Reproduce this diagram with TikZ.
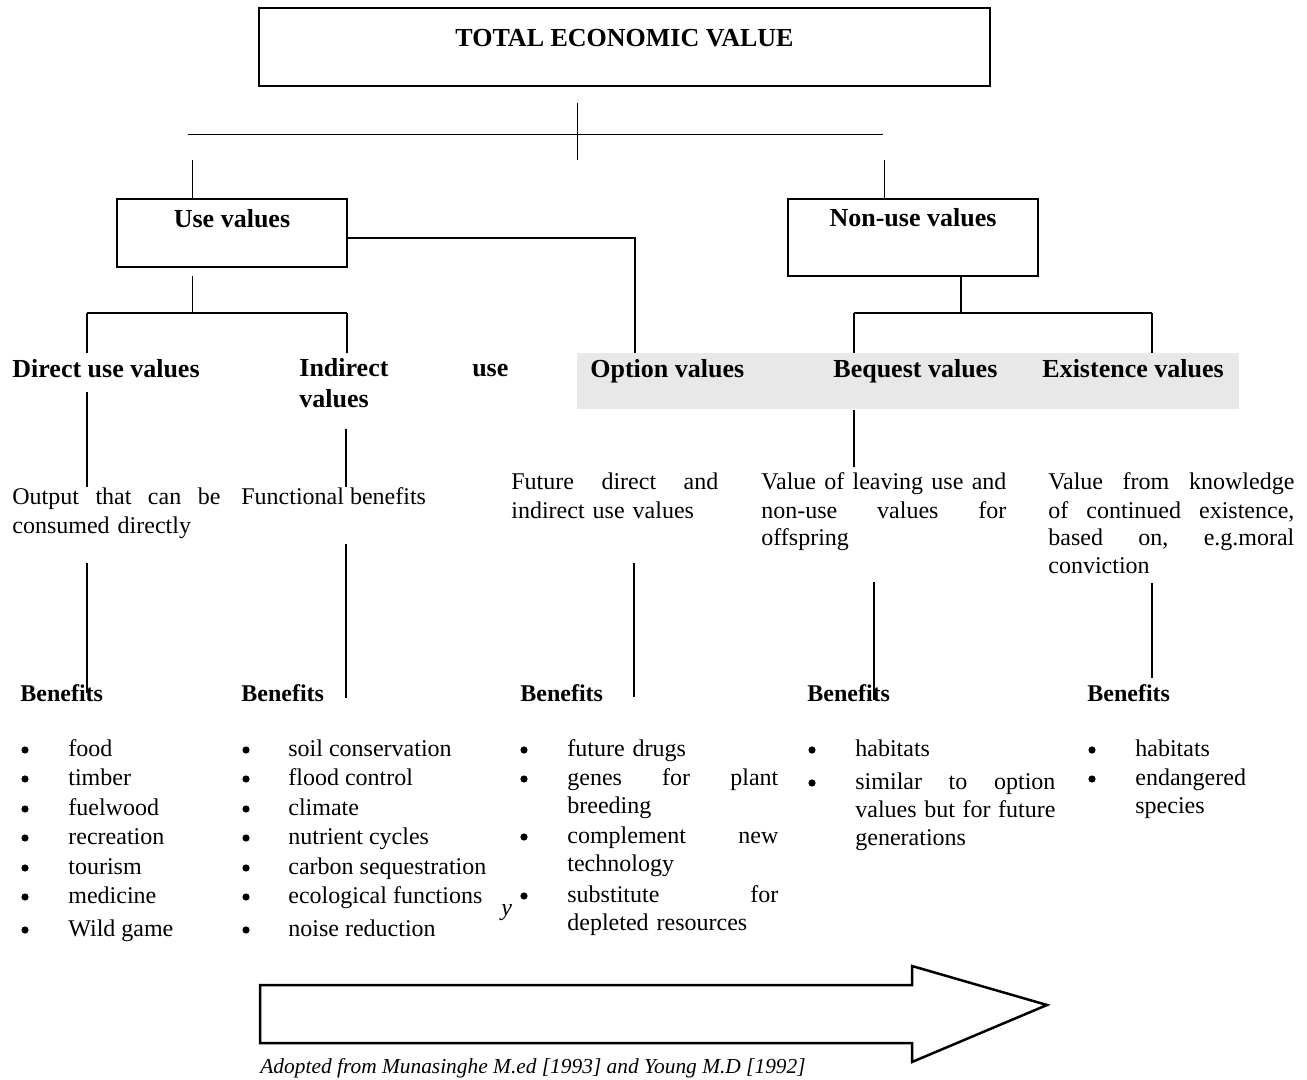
\documentclass[tikz,border=0pt]{standalone}
\usepackage{fontspec}
\setmainfont{Liberation Serif}
\usetikzlibrary{positioning}

\begin{document}
\begin{tikzpicture}[
    x=0.5pt,y=-0.5pt,
    valbox/.style={draw, line width=0.8pt, inner sep=0pt,
      font=\fontsize{13}{15.5}\selectfont\bfseries},
    topbox/.style={valbox, line width=1.35pt},
    head/.style={inner sep=0pt, anchor=base west, align=left,
      font=\fontsize{13}{15.5}\selectfont\bfseries},
    txt/.style={inner sep=0pt, anchor=base west, align=left,
      font=\fontsize{12}{14}\selectfont},
    bentitle/.style={inner sep=0pt, anchor=base west,
      font=\fontsize{12}{14}\selectfont\bfseries},
    dot/.style={circle, fill, inner sep=0pt, minimum size=3.6pt},
    link/.style={line width=0.5pt},
    stem/.style={line width=1.35pt},
    bigarrow/.style={line width=1.25pt, line join=miter}
  ]
    \useasboundingbox (0,0) rectangle (1307,1080);

    % boxes and shaded band
    \node[topbox, minimum width=365.5pt, minimum height=39pt,
      text height=10pt, text depth=10pt] (tev) at (624.5,47) {TOTAL ECONOMIC VALUE};
    \node[valbox, minimum width=115pt, minimum height=34pt,
      text height=8pt, text depth=13pt] (use) at (232,233) {Use values};
    \node[valbox, minimum width=125pt, minimum height=38.5pt,
      text height=8pt, text depth=18.5pt] (nonuse) at (913,237.5) {Non-use values};
    \node[fill=black!9, inner sep=0pt, minimum width=331pt, minimum height=28pt] (band) at (908,381) {};

    % value headings
    \node[head] (direct) at (12,378) {Direct use values};
    \node[head, text width=104.5pt] (indirect) at (299,377) {Indirect\hfill use\\values};
    \node[head] (option) at (590,378) {Option values};
    \node[head] (bequest) at (833,378) {Bequest values};
    \node[head] (existence) at (1042,378) {Existence values};

    % descriptions
    \node[txt, text width=104pt] (output) at (12,505) {Output\hfill that\hfill can\hfill be\\consumed directly};
    \node[txt] (functional) at (241,505) {Functional benefits};
    \node[txt, text width=103.5pt] (future) at (511,490) {Future\hfill direct\hfill and\\indirect use values};
    \node[txt, text width=122.5pt] (leaving) at (761,490) {Value\hfill of\hfill leaving\hfill use\hfill and\\non-use\hfill values\hfill for\\offspring};
    \node[txt, text width=123pt] (knowledge) at (1048,490) {Value\hfill from\hfill knowledge\\of\hfill continued\hfill existence,\\based\hfill on,\hfill e.g.moral\\conviction};

    % benefits
    \foreach \x [count=\i] in {20,241,520,807,1087}
      \node[bentitle] (ben\i) at (\x,701) {Benefits};

    \foreach \y/\t [count=\i] in {756/food, 785/timber, 815/fuelwood, 844/recreation,
        874/tourism, 903/medicine, 936/Wild game} {
      \node[dot] (da\i) at (25,\y-6) {};
      \node[txt] (a\i) at (68,\y) {\t};
    }
    \foreach \y/\t [count=\i] in {756/soil conservation, 785/flood control, 815/climate,
        844/nutrient cycles, 874/carbon sequestration, 903/ecological functions,
        936/noise reduction} {
      \node[dot] (db\i) at (246,\y-6) {};
      \node[txt] (b\i) at (288,\y) {\t};
    }
    \foreach \y/\t [count=\i] in {756/{future drugs}, 785/{genes\hfill for\hfill plant\\breeding},
        843/{complement\hfill new\\technology}, 902/{substitute\hfill for\\depleted resources}} {
      \node[dot] (dc\i) at (524,\y-6) {};
      \node[txt, text width=105.5pt] (c\i) at (567,\y) {\t};
    }
    \foreach \y/\t [count=\i] in {756/{habitats},
        789/{similar\hfill to\hfill option\\values\hfill but\hfill for\hfill future\\generations}} {
      \node[dot] (dd\i) at (812,\y-6) {};
      \node[txt, text width=100pt] (d\i) at (855,\y) {\t};
    }
    \foreach \y/\t [count=\i] in {756/{habitats}, 785/{endangered\\species}} {
      \node[dot] (de\i) at (1092,\y-6) {};
      \node[txt, text width=80pt] (e\i) at (1135,\y) {\t};
    }
    \node[txt, font=\fontsize{12}{14}\selectfont\itshape] (ymark) at (501,915) {y};

    % connectors
    \coordinate (tickT) at (577,103);
    \coordinate (tickB) at (577,160);
    \coordinate (barL) at (188,135);
    \coordinate (barR) at (883,135);
    \coordinate (useT) at (192,160);
    \coordinate (nonT) at (884,160);
    \draw[link] (tickT) -- (tickB);
    \draw[link] (barL) -- (barR);
    \draw[link] (useT) -- (useT |- use.north);
    \draw[link] (nonT) -- (nonT |- nonuse.north);

    \coordinate (useB) at (192,276);
    \coordinate (useJ) at (192,313);
    \coordinate (dirJ) at (87,313);
    \coordinate (indJ) at (347,313);
    \draw[link] (useB) -- (useJ);
    \draw[stem] (dirJ) -- (indJ);
    \draw[stem] (dirJ) -- ++(0,40);
    \draw[stem] (indJ) -- ++(0,40);

    \coordinate (optJ) at (635,238);
    \draw[stem] (use.east |- optJ) -- (optJ) -- (optJ |- band.north);

    \coordinate (nonJ) at (961,313);
    \coordinate (beqJ) at (854,313);
    \coordinate (exiJ) at (1152,313);
    \draw[stem] (nonJ |- nonuse.south) -- (nonJ);
    \draw[link, line width=0.7pt] (beqJ) -- (exiJ);
    \draw[stem] (beqJ) -- (beqJ |- band.north);
    \draw[stem] (exiJ) -- (exiJ |- band.north);

    \foreach \x/\a/\b in {87/392/487, 346/429/487, 854/410/467, 87/563/693,
        346/544/698, 634/563/697, 874/582/700, 1152/583/678}
      \draw[stem] (\x,\a) -- (\x,\b);

    % arrow and source
    \draw[bigarrow] (260,985) -- (912,985) -- (912,966) -- (1047,1005)
      -- (912,1062) -- (912,1043) -- (260,1043) -- cycle;
    \node[txt, font=\fontsize{10.7}{12}\selectfont\itshape] (source) at (260,1073)
      {Adopted from Munasinghe M.ed [1993] and Young M.D [1992]};
  \end{tikzpicture}
\end{document}
